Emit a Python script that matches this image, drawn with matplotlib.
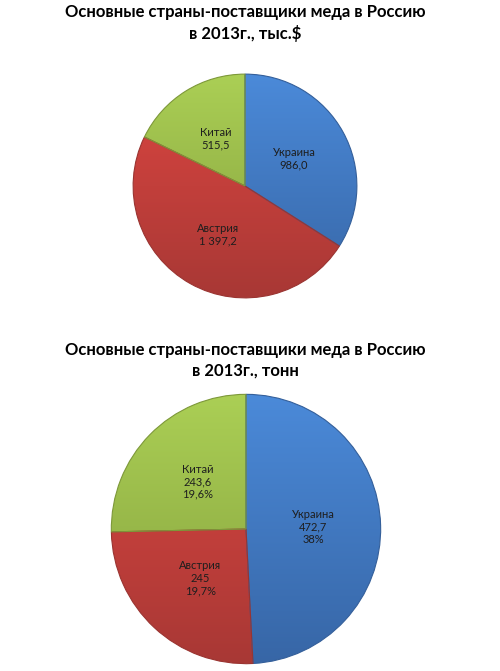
import numpy as np
import matplotlib
matplotlib.use('Agg')
from matplotlib import pyplot as plt
from matplotlib.colors import LinearSegmentedColormap

plt.rcParams['font.family'] = ['Lato', 'DejaVu Sans']

# data
countries = ['Украина', 'Австрия', 'Китай']
usd_values = [986.0, 1397.2, 515.5]
usd_labels = ['986,0', '1 397,2', '515,5']
tonn_values = [472.7, 245, 243.6]
tonn_labels = ['472,7', '245', '243,6']
tonn_pct = ['38%', '19,7%', '19,6%']

title1 = 'Основные страны-поставщики меда в Россию\nв 2013г., тыс.$'
title2 = 'Основные страны-поставщики меда в Россию\nв 2013г., тонн'

# light (top) / dark (bottom) shades, edge colour
shades = [('#4b8ad9', '#3766a6', '#345f9a'),
          ('#dc4641', '#a83835', '#9a3431'),
          ('#abcf55', '#84a03d', '#7d9839')]

W, H = 500, 671
fig = plt.figure(figsize=(W / 100, H / 100), dpi=100)


def make_ax(cx, cy, r):
    return fig.add_axes([(cx - r) / W, (H - cy - r) / H, 2 * r / W, 2 * r / H])


def draw_pie(ax, values, lines):
    wedges, _ = ax.pie(values, startangle=90, counterclock=False, radius=1,
                       wedgeprops=dict(linewidth=0.8))
    grad = np.linspace(0, 1, 256).reshape(-1, 1)
    for w, (c1, c2, ec) in zip(wedges, shades):
        w.set_facecolor('none')
        w.set_edgecolor(ec)
        w.set_zorder(3)
        cmap = LinearSegmentedColormap.from_list('g', [c1, c2])
        im = ax.imshow(grad, cmap=cmap, extent=(-1, 1, -1, 1), origin='upper',
                       aspect='auto', zorder=2)
        im.set_clip_path(w)
    for w, txt in zip(wedges, lines):
        ang = np.deg2rad((w.theta1 + w.theta2) / 2)
        ax.text(0.5 * np.cos(ang), 0.5 * np.sin(ang), txt, ha='center', va='center',
                fontsize=8, color='#1e1e1e', linespacing=1.15, zorder=5)
    ax.set_xlim(-1.01, 1.01)
    ax.set_ylim(-1.01, 1.01)
    ax.axis('off')


ax1 = make_ax(245, 186, 113)
draw_pie(ax1, usd_values, [c + '\n' + v for c, v in zip(countries, usd_labels)])

ax2 = make_ax(246, 529, 136)
draw_pie(ax2, tonn_values, [c + '\n' + v + '\n' + p
                            for c, v, p in zip(countries, tonn_labels, tonn_pct)])

fig.text(0.49, 1 - 23 / H, title1, ha='center', va='center', fontsize=12,
         fontweight='bold', linespacing=1.35)
fig.text(0.49, 1 - 360 / H, title2, ha='center', va='center', fontsize=12,
         fontweight='bold', linespacing=1.35)

fig.savefig('out.png', dpi=100)
